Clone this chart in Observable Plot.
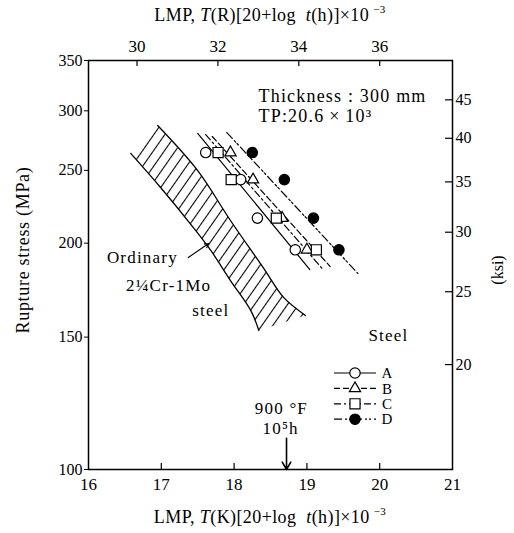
<!DOCTYPE html>
<html><head><meta charset="utf-8">
<script src="https://cdn.jsdelivr.net/npm/d3@7"></script>
<script src="https://cdn.jsdelivr.net/npm/@observablehq/plot@0.6"></script>
<style>
body{margin:0;background:#fff}
svg, svg text{font-family:"Liberation Serif","Times New Roman",serif !important}
</style>
</head><body><div id="chart"></div>
<script>
// ---- data ----
const steels = ["A", "B", "C", "D"];
const stressLevels = [264, 243, 216, 196];            // MPa, test stress levels
const lmpA = [17.61, 18.09, 18.32, 18.84];
const lmpB = [17.95, 18.26, 18.66, 19.00];
const lmpC = [17.78, 17.96, 18.58, 19.13];
const lmpD = [18.25, 18.69, 19.09, 19.44];
// fitted master lines (LMP, MPa) end points
const fitA = [[17.50, 280.0], [19.04, 184.5]];
const fitB = [[17.70, 277.3], [19.32, 186.2]];
const fitC = [[17.61, 279.0], [19.21, 185.1]];
const fitD = [[17.90, 280.7], [19.70, 182.3]];
// scatter band of ordinary 2¼Cr-1Mo steel (LMP, MPa)
const bandLeft = [[16.58, 263.3], [16.99, 237.2], [17.44, 209.8], [17.68, 195.6], [17.95, 178.4], [18.23, 162.7], [18.34, 153.1]];
const bandRight = [[16.95, 286.8], [17.50, 249.8], [17.95, 214.4], [18.40, 185.6], [18.68, 169.4], [18.98, 160.3]];
// axes
const xTicks = [16, 17, 18, 19, 20, 21];
const yTicks = [100, 150, 200, 250, 300, 350];
const rankineTicks = [30, 32, 34, 36];
const ksiTicks = [20, 25, 30, 35, 40, 45];
// annotations
const notesStart = [
  {x: 18.335, y: 313.4, text: "Thickness : 300 mm"},
  {x: 18.335, y: 294.8, text: "TP:20.6\u2009×\u200910³"}
];
const notesMiddle = [
  {x: 16.74, y: 191.4, text: "Ordinary"},
  {x: 17.10, y: 175.7, text: "2¼Cr-1Mo"},
  {x: 17.68, y: 162.7, text: "steel"},
  {x: 18.65, y: 120.5, text: "900 °F"},
  {x: 18.64, y: 113.4, text: "10⁵h"},
  {x: 20.12, y: 150.7, text: "Steel"}
];
const refArrow = [{x: 18.72, y1: 110, y2: 100}];
const bandPointer = [{x1: 17.37, y1: 191.4, x2: 17.65, y2: 199.8}];

// ---- build ----
const KSI = 6.895;
const FONT = '"Liberation Serif", "Times New Roman", serif';
const seriesLmp = [lmpA, lmpB, lmpC, lmpD];
const seriesFit = [fitA, fitB, fitC, fitD];
const dashes = [null, "6,3", "7,3,2,3", "8,3,2,2,2,3"];
const symbols = ["circle", "triangle", "square", "circle"];
const fills = ["white", "white", "white", "black"];
const radii = [5.2, 4.2, 5.7, 5.2];

const bandPoly = [...bandLeft, ...bandRight.slice().reverse()];

const marks = [
  Plot.line(bandPoly, {x: d => d[0], y: d => d[1], fill: "url(#hatch)", stroke: "none"}),
  Plot.line(bandLeft, {x: d => d[0], y: d => d[1], stroke: "black", strokeWidth: 1.3, curve: "catmull-rom"}),
  Plot.line(bandRight, {x: d => d[0], y: d => d[1], stroke: "black", strokeWidth: 1.3, curve: "catmull-rom"})
];
steels.forEach((s, i) => {
  marks.push(Plot.line(seriesFit[i], {x: d => d[0], y: d => d[1], stroke: "black", strokeWidth: 1.2, strokeDasharray: dashes[i]}));
});
steels.forEach((s, i) => {
  marks.push(Plot.dot(seriesLmp[i].map((x, j) => ({x, y: stressLevels[j]})),
    {x: "x", y: "y", symbol: symbols[i], r: radii[i], fill: fills[i], stroke: "black", strokeWidth: 1.2}));
});
marks.push(
  Plot.frame({stroke: "black", strokeWidth: 1.5}),
  Plot.ruleX(xTicks.slice(1, -1), {insetTop: 403, stroke: "black", strokeWidth: 1.2}),
  Plot.ruleX(rankineTicks.map(r => r / 1.8), {insetBottom: 403, stroke: "black", strokeWidth: 1.2}),
  Plot.ruleY(ksiTicks.map(k => k * KSI), {insetLeft: 357, stroke: "black", strokeWidth: 1.2}),
  Plot.axisX({anchor: "bottom", ticks: xTicks, tickFormat: d => String(d), tickSize: 0, tickPadding: 8, fontSize: 17, label: null}),
  Plot.axisX({anchor: "top", ticks: rankineTicks.map(r => r / 1.8), tickFormat: d => String(Math.round(d * 1.8)), tickSize: 0, tickPadding: 9, fontSize: 17, label: null}),
  Plot.axisY({anchor: "left", ticks: yTicks, tickFormat: d => String(d), tickSize: 4, tickPadding: 2, fontSize: 16, label: null}),
  Plot.axisY({anchor: "right", ticks: ksiTicks.map(k => k * KSI), tickFormat: d => String(Math.round(d / KSI)), tickSize: 0, tickPadding: 3, fontSize: 16, label: null}),
  Plot.text(notesStart, {x: "x", y: "y", text: "text", textAnchor: "start", fontSize: 18, fill: "black"}),
  Plot.text(notesMiddle, {x: "x", y: "y", text: "text", textAnchor: "middle", fontSize: 17, fill: "black"}),
  Plot.arrow(refArrow, {x1: "x", x2: "x", y1: "y1", y2: "y2", stroke: "black", strokeWidth: 1.6, headLength: 8}),
  Plot.arrow(bandPointer, {x1: "x1", y1: "y1", x2: "x2", y2: "y2", stroke: "black", strokeWidth: 1.1, headLength: 6})
);

const plot = Plot.plot({
  width: 514, height: 533,
  marginLeft: 88, marginRight: 62, marginTop: 60, marginBottom: 64,
  style: {fontFamily: FONT, fontSize: "16px", background: "white", color: "black"},
  x: {domain: [16, 21]},
  y: {type: "log", domain: [100, 350]},
  marks
});
plot.style.fontFamily = FONT;
document.getElementById("chart").appendChild(plot);

// ---- hatch pattern, letter spacing, titles and legend ----
const svg = d3.select(plot);
const defs = svg.insert("defs", ":first-child");
const pat = defs.append("pattern").attr("id", "hatch").attr("patternUnits", "userSpaceOnUse")
  .attr("width", 9).attr("height", 9).attr("patternTransform", "rotate(35)");
pat.append("line").attr("x1", 4.5).attr("x2", 4.5).attr("y1", 0).attr("y2", 9).attr("stroke", "black").attr("stroke-width", 1.1);

// wider letter spacing for in-plot notes, as in the reference
svg.selectAll("g[aria-label='text'] text").attr("letter-spacing", "1.2px");

function lmpTitle(y, unit) {
  const t = svg.append("text").attr("x", 270).attr("y", y).attr("text-anchor", "middle")
    .attr("font-size", 18).attr("letter-spacing", "0.4px").attr("fill", "black");
  t.append("tspan").text("LMP, ");
  t.append("tspan").attr("font-style", "italic").text("T");
  t.append("tspan").text(`(${unit})[20+log `);
  t.append("tspan").attr("font-style", "italic").attr("dx", 5).text("t");
  t.append("tspan").text("(h)]×10");
  t.append("tspan").attr("font-size", 11).attr("dx", 4).attr("dy", -8).text("−3");
}
lmpTitle(21, "R");
lmpTitle(523, "K");

svg.append("text").attr("transform", "translate(29,250) rotate(-90)").attr("text-anchor", "middle")
  .attr("font-size", 18).attr("letter-spacing", "0.7px").attr("fill", "black").text("Rupture stress (MPa)");
svg.append("text").attr("transform", "translate(503,270) rotate(-90)").attr("text-anchor", "middle")
  .attr("font-size", 16).attr("fill", "black").text("(ksi)");

const symTypes = {circle: d3.symbolCircle, triangle: d3.symbolTriangle, square: d3.symbolSquare};
const leg = svg.append("g");
steels.forEach((s, i) => {
  const y = 373 + i * 15.4;
  leg.append("line").attr("x1", 334).attr("x2", 376).attr("y1", y).attr("y2", y)
    .attr("stroke", "black").attr("stroke-width", 1.2).attr("stroke-dasharray", dashes[i]);
  leg.append("path").attr("transform", `translate(355,${y})`)
    .attr("d", d3.symbol(symTypes[symbols[i]], Math.PI * radii[i] * radii[i])())
    .attr("fill", fills[i]).attr("stroke", "black").attr("stroke-width", 1.2);
  leg.append("text").attr("x", 387).attr("y", y).attr("dy", "0.35em")
    .attr("font-size", 15).attr("fill", "black").text(s);
});
svg.selectAll("text").attr("font-family", FONT);
</script>
</body></html>
